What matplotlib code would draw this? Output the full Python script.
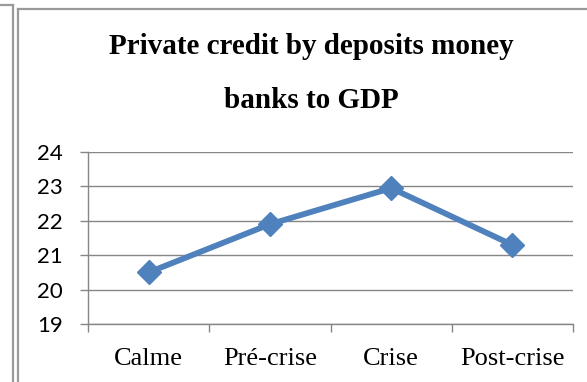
import matplotlib.pyplot as plt
from matplotlib.lines import Line2D

periods = ['Calme', 'Pré-crise', 'Crise', 'Post-crise']
credit_gdp = [20.5, 21.9, 22.95, 21.3]
y_ticks = [19, 20, 21, 22, 23, 24]

W, H = 587, 382
fig = plt.figure(figsize=(W / 100, H / 100), dpi=100)
fig.patch.set_facecolor('white')

grey = '#868686'
blue = '#4F81BD'

# Page frame lines around the chart
def fline(xs, ys, **kw):
    fig.add_artist(Line2D([x / W for x in xs], [1 - y / H for y in ys],
                          transform=fig.transFigure, color='#9a9a9a', lw=1.6, **kw))

fline([0, 12.5], [4.5, 4.5])
fline([12.5, 12.5], [4.5, H])
fline([17.5, 17.5], [8.5, H])
fline([17.5, W], [8.5, 8.5])

# Plot area in pixels
x0, x1, ytop, ybot = 88, 573, 152, 324
ax = fig.add_axes([x0 / W, 1 - ybot / H, (x1 - x0) / W, (ybot - ytop) / H])

xs = range(len(periods))
ax.plot(xs, credit_gdp, color=blue, lw=4.2, marker='D', markersize=12,
        solid_joinstyle='miter', zorder=3, clip_on=False)

ax.set_xlim(-0.5, len(periods) - 0.5)
ax.set_ylim(19, 24)
ax.set_yticks(y_ticks)
ax.set_yticklabels([str(t) for t in y_ticks], fontfamily='Lato', fontsize=16)
ax.set_xticks([i - 0.5 for i in range(len(periods) + 1)])
ax.set_xticklabels([])
ax.set_xticks(list(xs), minor=True)
ax.set_xticklabels(periods, minor=True, fontfamily='Liberation Serif', fontsize=19)
ax.tick_params(axis='x', which='minor', length=0, pad=17)
ax.tick_params(axis='x', which='major', length=6, color=grey, width=1)
ax.tick_params(axis='y', length=6, color=grey, width=1, pad=12)

ax.grid(axis='y', color=grey, lw=1)
for s in ['top', 'right']:
    ax.spines[s].set_visible(False)
for s in ['left', 'bottom']:
    ax.spines[s].set_color(grey)
    ax.spines[s].set_linewidth(1)

fig.text(311 / W, 1 - 47 / H, 'Private credit by deposits money',
         ha='center', va='center', fontfamily='Liberation Serif',
         fontweight='bold', fontsize=21)
fig.text(311 / W, 1 - 100 / H, 'banks to GDP',
         ha='center', va='center', fontfamily='Liberation Serif',
         fontweight='bold', fontsize=21)

fig.savefig('out.png', dpi=100)
